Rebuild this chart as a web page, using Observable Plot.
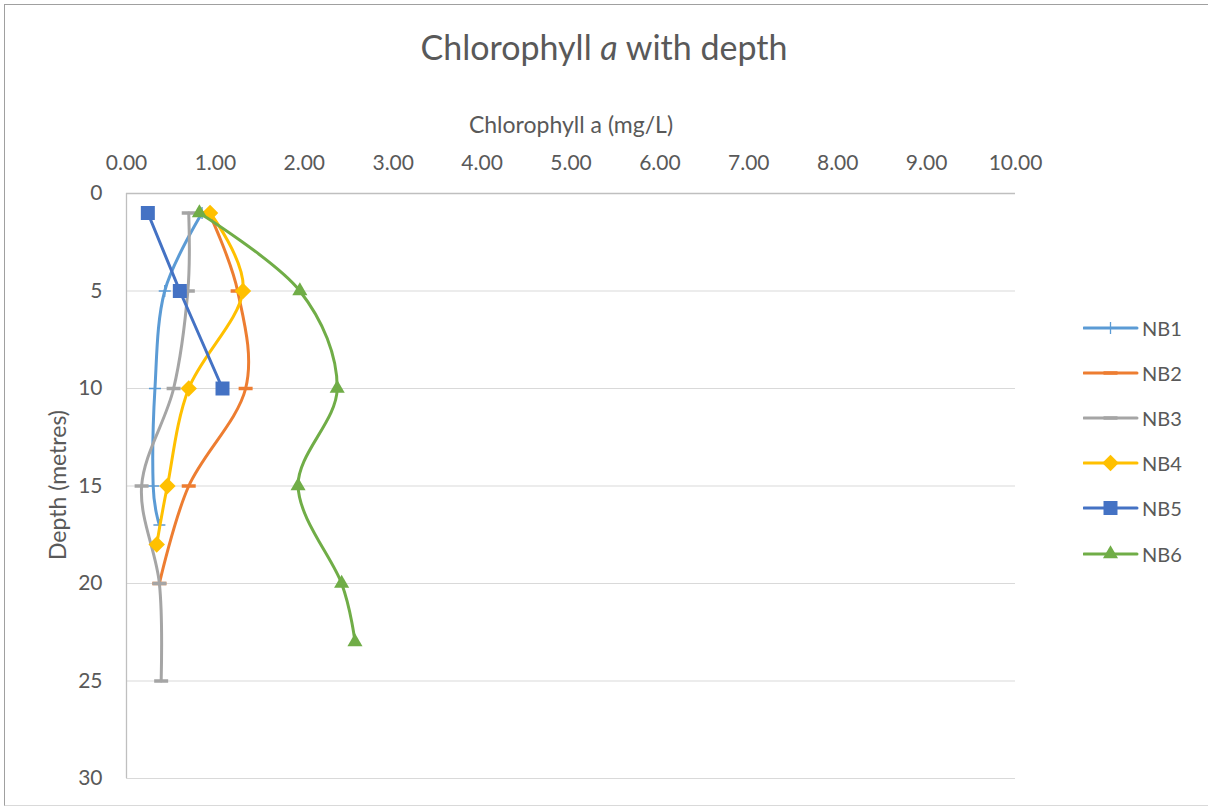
<!DOCTYPE html>
<html>
<head>
<meta charset="utf-8">
<script src="https://cdn.jsdelivr.net/npm/d3@7"></script>
<script src="https://cdn.jsdelivr.net/npm/@observablehq/plot@0.6"></script>
<style>
  html, body { margin: 0; padding: 0; background: #fff; }
  #wrap { position: relative; width: 1208px; height: 808px; overflow: hidden; font-family: Lato, "Open Sans", sans-serif; color: #595959; }
  #border { position: absolute; left: 4px; top: 4px; width: 1210px; height: 802px; border-left: 1px solid #a0a0a0; border-top: 1px solid #a0a0a0; border-bottom: 1px solid #d9d9d9; box-sizing: border-box; }
  #chart { position: absolute; left: 0; top: 0; }
  #title { position: absolute; left: 0; width: 1208px; top: 27px; text-align: center; font-size: 34px; line-height: 40px; }
  #xlabel { position: absolute; left: 127px; width: 888px; top: 109px; text-align: center; font-size: 23px; line-height: 30px; }
  #ylabel { position: absolute; left: 57px; top: 485px; transform: translate(-50%, -50%) rotate(-90deg); font-size: 23px; white-space: nowrap; }
  #legend { position: absolute; left: 1083px; top: 0; }
  .lg { position: absolute; left: 0; width: 120px; height: 24px; }
  .lg svg { position: absolute; left: 0; top: 0; }
  .lg span { position: absolute; left: 59px; top: 0; font-size: 20px; line-height: 24px; }
</style>
</head>
<body>
<div id="wrap">
  <div id="border"></div>
  <div id="chart"></div>
  <div id="title">Chlorophyll <i>a</i> with depth</div>
  <div id="xlabel">Chlorophyll a (mg/L)</div>
  <div id="ylabel">Depth (metres)</div>
  <div id="legend"></div>
</div>
<script>
// ---- data ----
const seriesNames = ["NB1", "NB2", "NB3", "NB4", "NB5", "NB6"];
const seriesColors = ["#5B9BD5", "#ED7D31", "#A5A5A5", "#FFC000", "#4472C4", "#70AD47"];

const depthNB1 = [1, 5, 10, 15, 17];
const chlNB1   = [0.85, 0.43, 0.32, 0.30, 0.37];
const depthNB2 = [1, 5, 10, 15, 20];
const chlNB2   = [0.93, 1.25, 1.34, 0.70, 0.37];
const depthNB3 = [1, 5, 10, 15, 20, 25];
const chlNB3   = [0.70, 0.69, 0.53, 0.17, 0.37, 0.39];
const depthNB4 = [1, 5, 10, 15, 18];
const chlNB4   = [0.94, 1.31, 0.70, 0.46, 0.34];
const depthNB5 = [1, 5, 10];
const chlNB5   = [0.24, 0.60, 1.08];
const depthNB6 = [1, 5, 10, 15, 20, 23];
const chlNB6   = [0.82, 1.95, 2.37, 1.93, 2.42, 2.57];

const xTicks = [0, 1, 2, 3, 4, 5, 6, 7, 8, 9, 10];
const yTicks = [0, 5, 10, 15, 20, 25, 30];

const depths = [depthNB1, depthNB2, depthNB3, depthNB4, depthNB5, depthNB6];
const chls = [chlNB1, chlNB2, chlNB3, chlNB4, chlNB5, chlNB6];

// ---- marker symbols ----
const dashSymbol = { draw(ctx, size) { const r = Math.sqrt(size / Math.PI); ctx.moveTo(-r, 0); ctx.lineTo(r, 0); } };
const plusSymbol = { draw(ctx, size) { const r = Math.sqrt(size / Math.PI); ctx.moveTo(-r, 0); ctx.lineTo(r, 0); ctx.moveTo(0, -r); ctx.lineTo(0, r); } };

const styles = {
  NB1: { curve: "cardinal", symbol: plusSymbol, r: 6, filled: false, sw: 1.3 },
  NB2: { curve: "cardinal", symbol: dashSymbol, r: 7, filled: false, sw: 3.5 },
  NB3: { curve: "cardinal", symbol: dashSymbol, r: 7, filled: false, sw: 3.5 },
  NB4: { curve: "cardinal", symbol: "diamond2", r: 7.4, filled: true },
  NB5: { curve: "linear", symbol: "square", r: 7.9, filled: true },
  NB6: { curve: "cardinal", symbol: "triangle", r: 5.6, filled: true }
};

const rows = seriesNames.map((s, i) => depths[i].map((d, j) => ({ series: s, depth: d, chl: chls[i][j] })));

const marks = [
  Plot.ruleY(yTicks.filter(d => d > 0), { y: d => d, stroke: "#d9d9d9", strokeWidth: 1.2 }),
  Plot.ruleX([0], { x: d => d, stroke: "#bfbfbf", strokeWidth: 1.3 }),
  Plot.ruleY([0], { y: d => d, stroke: "#bfbfbf", strokeWidth: 1.3 }),
  Plot.axisX({ anchor: "top", ticks: xTicks, tickFormat: d3.format(".2f"), tickSize: 0, tickPadding: 24, fontSize: 21, fill: "#595959", label: null }),
  Plot.axisY({ anchor: "left", ticks: yTicks, tickFormat: d3.format("d"), tickSize: 0, tickPadding: 24, fontSize: 21, fill: "#595959", label: null })
];

seriesNames.forEach((s, i) => {
  const st = styles[s];
  const col = seriesColors[i];
  marks.push(Plot.line(rows[i], { x: "chl", y: "depth", stroke: col, strokeWidth: 3, curve: st.curve, strokeLinejoin: "round", strokeLinecap: "round" }));
  if (st.filled) {
    marks.push(Plot.dot(rows[i], { x: "chl", y: "depth", symbol: st.symbol, r: st.r, fill: col, stroke: "none" }));
  } else {
    marks.push(Plot.dot(rows[i], { x: "chl", y: "depth", symbol: st.symbol, r: st.r, fill: "none", stroke: col, strokeWidth: st.sw }));
  }
});

const chart = Plot.plot({
  width: 1208,
  height: 808,
  marginTop: 193,
  marginLeft: 126,
  marginRight: 193,
  marginBottom: 30,
  style: { fontFamily: "Lato, 'Open Sans', sans-serif", color: "#595959", background: "transparent" },
  x: { domain: [0, 10] },
  y: { domain: [0, 30], reverse: true },
  marks
});
document.getElementById("chart").appendChild(chart);

// ---- legend ----
const legend = d3.select("#legend");
const legendTop = [328, 373, 418, 463, 508, 554];
seriesNames.forEach((s, i) => {
  const st = styles[s];
  const col = seriesColors[i];
  const item = legend.append("div").attr("class", "lg").style("top", (legendTop[i] - 12) + "px");
  const svg = item.append("svg").attr("width", 56).attr("height", 24);
  svg.append("line").attr("x1", 1).attr("x2", 54).attr("y1", 12).attr("y2", 12)
    .attr("stroke", col).attr("stroke-width", 3).attr("stroke-linecap", "round");
  const symMap = { square: d3.symbolSquare, diamond2: d3.symbolDiamond2, triangle: d3.symbolTriangle };
  const sym = typeof st.symbol === "string" ? symMap[st.symbol] : st.symbol;
  const path = d3.symbol(sym, st.r * st.r * Math.PI)();
  const p = svg.append("path").attr("d", path).attr("transform", "translate(27.5,12)");
  if (st.filled) p.attr("fill", col);
  else p.attr("fill", "none").attr("stroke", col).attr("stroke-width", st.sw);
  item.append("span").text(s);
});
</script>
</body>
</html>
